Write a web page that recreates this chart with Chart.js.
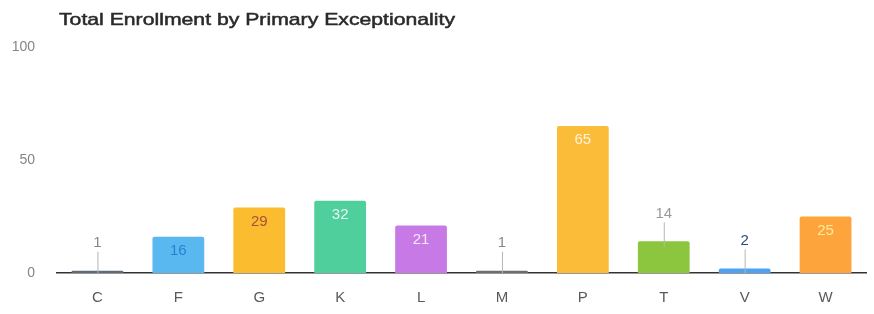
<!DOCTYPE html>
<html lang="en">
<head>
  <meta charset="UTF-8">
  <title>Total Enrollment by Primary Exceptionality</title>
  <script src="https://cdn.jsdelivr.net/npm/chart.js"></script>
  <style>
    html, body { margin: 0; padding: 0; background: #fff; }
    #wrap { width: 874px; height: 314px; }
  </style>
</head>
<body>
  <div id="wrap"><canvas id="enrollBar"></canvas></div>

  <script>
    const chartTitle = 'Total Enrollment by Primary Exceptionality';
    const categories = ['C', 'F', 'G', 'K', 'L', 'M', 'P', 'T', 'V', 'W'];
    const enrollment = [1, 16, 29, 32, 21, 1, 65, 14, 2, 25];
    const yTicks = [0, 50, 100];
    const barColors = ['#5f6b78', '#5ab8f0', '#fbbd2f', '#4fcf9c', '#c77ae6',
                       '#6d6d6d', '#fbbc3a', '#8cc63f', '#4da3ef', '#fda53c'];
    const labelColors = ['#888888', '#2a7fd0', '#a8503a', '#e6f6ef', '#f7e8fc',
                         '#888888', '#fff4dc', '#9a9a9a', '#2f4a7a', '#ffeaa0'];

    const FONT = '"Liberation Sans", Arial, sans-serif';

    // value labels: inside the bar top, or above with a small leader line for short bars
    const valueLabels = {
      id: 'valueLabels',
      afterDatasetsDraw(chart) {
        const ctx = chart.ctx;
        const meta = chart.getDatasetMeta(0);
        ctx.save();
        ctx.font = '15px ' + FONT;
        ctx.textAlign = 'center';
        ctx.textBaseline = 'middle';
        meta.data.forEach((bar, i) => {
          const v = enrollment[i];
          if (v < 15) {
            const ty = bar.y - 28;
            ctx.strokeStyle = '#b5b5b5';
            ctx.lineWidth = 1;
            ctx.beginPath();
            ctx.moveTo(bar.x + 0.5, ty + 9);
            ctx.lineTo(bar.x + 0.5, Math.min(bar.y + 6, bar.base));
            ctx.stroke();
            ctx.fillStyle = labelColors[i];
            ctx.fillText(String(v), bar.x, ty);
          } else {
            ctx.fillStyle = labelColors[i];
            ctx.fillText(String(v), bar.x, bar.y + 14);
          }
        });
        ctx.restore();
      }
    };

    // title drawn left-aligned over the plot, stretched to the reference width
    const titleAtLeft = {
      id: 'titleAtLeft',
      afterDraw(chart) {
        const ctx = chart.ctx;
        ctx.save();
        ctx.font = '17px ' + FONT;
        ctx.fillStyle = '#2a2a2a';
        ctx.strokeStyle = '#2a2a2a';
        ctx.lineWidth = 0.5;
        ctx.textAlign = 'left';
        ctx.textBaseline = 'middle';
        const w = ctx.measureText(chartTitle).width;
        ctx.translate(59, 20);
        ctx.scale(396 / w, 1);
        ctx.fillText(chartTitle, 0, 0);
        ctx.strokeText(chartTitle, 0, 0);
        ctx.restore();
      }
    };

    new Chart(document.getElementById('enrollBar'), {
      type: 'bar',
      data: {
        labels: categories,
        datasets: [{
          label: 'Enrollment',
          data: enrollment,
          backgroundColor: barColors,
          borderWidth: 0,
          borderRadius: 2,
          barPercentage: 0.64,
          categoryPercentage: 1
        }]
      },
      options: {
        responsive: true,
        maintainAspectRatio: false,
        animation: false,
        layout: { padding: { top: 47, right: 8, bottom: 0, left: 0 } },
        plugins: {
          legend: { display: false },
          tooltip: { enabled: false }
        },
        scales: {
          x: {
            afterFit(scale) { scale.height = 41; },
            grid: { display: false, drawTicks: false },
            border: { color: '#333333', width: 1.5 },
            ticks: {
              color: '#5a5a5a',
              font: { size: 15, family: FONT },
              padding: 16
            }
          },
          y: {
            min: 0,
            max: 100,
            afterBuildTicks(scale) { scale.ticks = yTicks.map(v => ({ value: v })); },
            afterFit(scale) { scale.width = 57; },
            grid: { display: false, drawTicks: false },
            border: { display: false },
            ticks: {
              color: '#858585',
              font: { size: 14, family: FONT },
              padding: 22
            }
          }
        }
      },
      plugins: [valueLabels, titleAtLeft]
    });
  </script>
</body>
</html>
